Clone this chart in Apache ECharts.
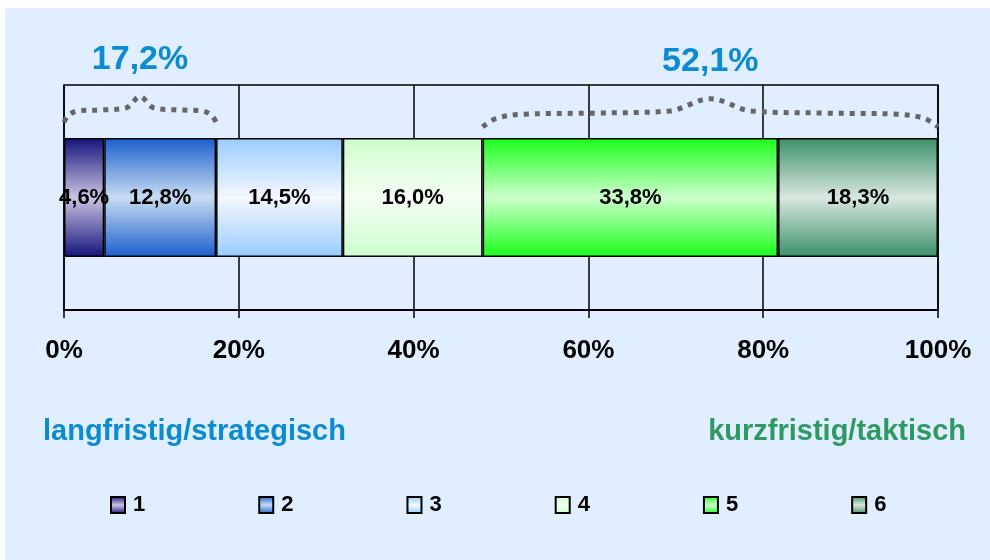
<!DOCTYPE html>
<html>
<head>
<meta charset="utf-8">
<script src="https://cdn.jsdelivr.net/npm/echarts@6/dist/echarts.min.js"></script>
<style>
    body{margin:0;background:#fff;}
    #app{position:absolute;left:5px;top:8px;width:985px;height:552px;}
</style>
</head>
<body>
<div id="app"></div>
<script>
//类别
let categories = ['1', '2', '3', '4', '5', '6']
//各段百分比
let shares = [4.6, 12.8, 14.5, 16.0, 33.8, 18.3]
//x轴刻度
let axisTicks = [0, 20, 40, 60, 80, 100]
//括号标注 (从第几段到第几段, 文字)
let braceFrom = [0, 4]
let braceTo = [1, 5]
let braceLabels = ['17,2%', '52,1%']
//底部说明
let sideTexts = ['langfristig/strategisch', 'kurzfristig/taktisch']

let font = 'Liberation Sans, Arial, sans-serif'
//渐变色 (边, 中间)
let edgeColors = ['#14137a', '#1a5fcc', '#99ccff', '#ccffcc', '#1aff1a', '#3c9068']
let midColors = ['#cbc3e3', '#c8dcf2', '#f4f8ff', '#f6fff4', '#ccffcc', '#d8e8e0']

function grad(i){
    return new echarts.graphic.LinearGradient(0, 0, 0, 1, [
        {offset: 0, color: edgeColors[i]},
        {offset: 0.5, color: midColors[i]},
        {offset: 1, color: edgeColors[i]}
    ])
}

//累计位置
let cum = [0]
shares.forEach((v, i) => { cum.push(cum[i] + v) })

//括号形状
function braceData(a, b, low, flat, peak){
    let w = b - a
    let c = (a + b) / 2
    return [
        [a, low],
        [a + w * 0.03, flat - 0.1],
        [a + w * 0.09, flat - 0.02],
        [a + w * 0.25, flat],
        [c - w * 0.09, flat + 0.04],
        [c, peak],
        [c + w * 0.09, flat + 0.04],
        [b - w * 0.25, flat],
        [b - w * 0.09, flat - 0.02],
        [b - w * 0.03, flat - 0.1],
        [b, low]
    ]
}

let series = []
categories.forEach((name, i) => {
    series.push({
        name: name,
        type: 'bar',
        stack: 'total',
        barWidth: 119,
        data: [shares[i]],
        itemStyle: {color: grad(i), borderColor: '#000', borderWidth: 1.5},
        label: {
            show: true,
            position: 'inside',
            color: '#000',
            fontFamily: font,
            fontSize: 22,
            fontWeight: 'bold',
            textBorderWidth: 0,
            formatter: p => p.value.toFixed(1).replace('.', ',') + '%'
        }
    })
})

let peaks = []
braceLabels.forEach((txt, k) => {
    let a = cum[braceFrom[k]]
    let b = cum[braceTo[k] + 1]
    let d = k === 0 ? braceData(a, b, 0.30, 0.53, 0.78) : braceData(a, b, 0.21, 0.47, 0.74)
    peaks.push({value: d[5], name: txt})
    series.push({
        name: 'brace' + k,
        type: 'line',
        xAxisIndex: 1,
        yAxisIndex: 1,
        smooth: 0.35,
        symbol: 'none',
        data: d,
        lineStyle: {color: '#666', width: 5, type: [5, 6], cap: 'butt'},
        emphasis: {disabled: true}
    })
})
//括号上方的百分比
series.push({
    name: 'braceText',
    type: 'scatter',
    xAxisIndex: 1,
    yAxisIndex: 1,
    symbolSize: 2,
    itemStyle: {color: 'rgba(0,0,0,0)', opacity: 1},
    data: peaks,
    label: {
        show: true,
        position: 'top',
        distance: 19,
        color: '#0b8bd1',
        fontFamily: font,
        fontSize: 34,
        fontWeight: 'bold',
        formatter: p => p.name
    },
    emphasis: {disabled: true}
})

let myChart = echarts.init(document.getElementById('app'))
let option = {
    backgroundColor: '#e0eeff',
    animation: false,
    grid: [
        {left: 59, right: 52, top: 77, bottom: 250, show: true, borderColor: '#000', borderWidth: 1.5},
        {left: 59, right: 52, top: 77, height: 53}
    ],
    legend: {
        data: categories,
        left: 100,
        top: 481,
        itemWidth: 14,
        itemHeight: 16,
        itemGap: 113,
        icon: 'rect',
        textStyle: {fontFamily: font, fontSize: 22, fontWeight: 'bold', color: '#000', padding: [0, 0, 0, 3]}
    },
    xAxis: [
        {
            type: 'value',
            min: axisTicks[0],
            max: axisTicks[axisTicks.length - 1],
            interval: axisTicks[1] - axisTicks[0],
            axisLine: {show: true, lineStyle: {color: '#000', width: 2}},
            axisTick: {show: true, length: 8, lineStyle: {color: '#000', width: 1.5}},
            splitLine: {show: true, lineStyle: {color: '#000', width: 1.5}},
            axisLabel: {
                margin: 28,
                color: '#000',
                fontFamily: font,
                fontSize: 26,
                fontWeight: 'bold',
                formatter: '{value}%'
            }
        },
        {gridIndex: 1, type: 'value', min: 0, max: 100, show: false}
    ],
    yAxis: [
        {type: 'category', data: [''], axisLine: {show: false}, axisTick: {show: false}, axisLabel: {show: false}},
        {gridIndex: 1, type: 'value', min: 0, max: 1, show: false}
    ],
    graphic: [
        {
            type: 'text', left: 38, top: 409,
            style: {text: sideTexts[0], fill: '#0b8bd1', font: 'bold 29px ' + font}
        },
        {
            type: 'text', right: 24, top: 409,
            style: {text: sideTexts[1], fill: '#2e9a62', font: 'bold 29px ' + font}
        }
    ],
    series: series
}
myChart.setOption(option)
</script>
</body>
</html>
